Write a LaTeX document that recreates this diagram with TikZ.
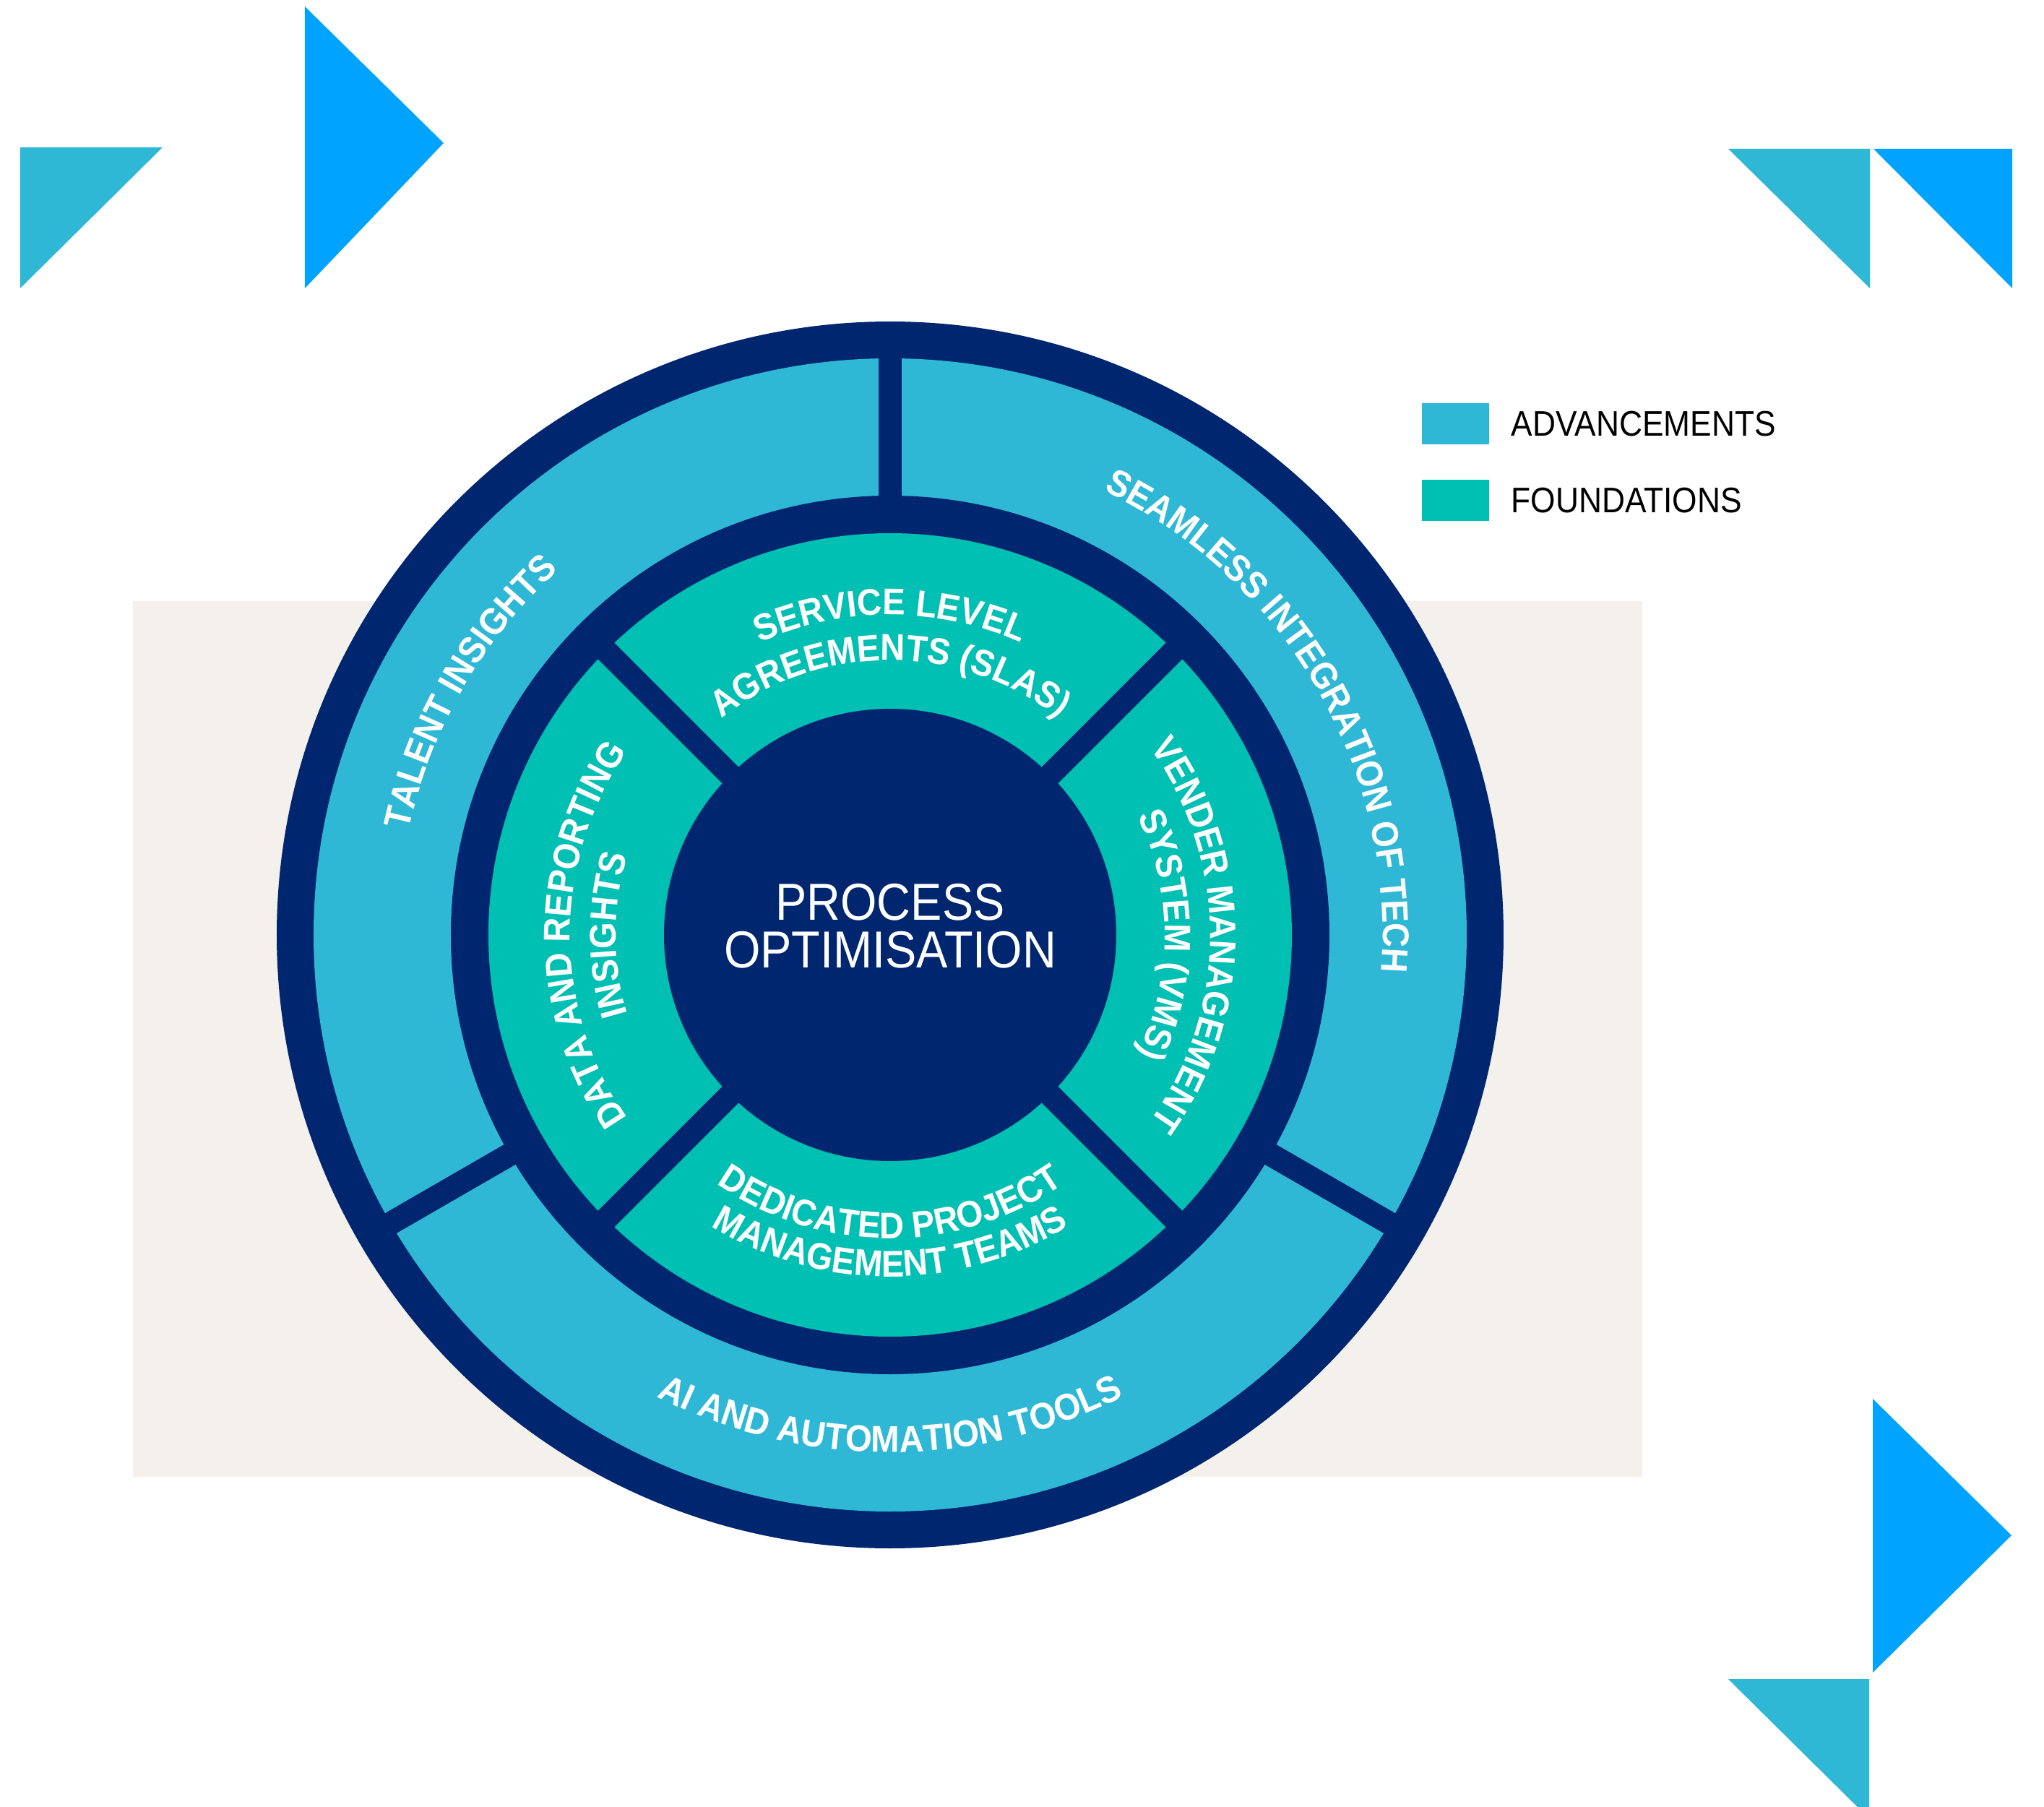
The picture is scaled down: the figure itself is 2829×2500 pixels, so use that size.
\documentclass[tikz,border=0pt]{standalone}
\usepackage{fontspec}
\setmainfont{Liberation Sans}
\newfontfamily\narrowfont[FakeStretch=0.9]{Liberation Sans}
\newfontfamily\ringfont[FakeStretch=0.92]{Liberation Sans}
\usetikzlibrary{positioning,decorations.text}

\definecolor{navy}{HTML}{00266F}
\definecolor{ringblue}{HTML}{2FB8D6}
\definecolor{ringteal}{HTML}{00BFB3}
\definecolor{arrowblue}{HTML}{00A3FF}
\definecolor{paper}{HTML}{F4F0EC}

\begin{document}
\begin{tikzpicture}[x=0.1mm, y=0.1mm,
            divider/.style = {draw=navy, line width=3.2mm},
            ringtext/.style = {decorate, decoration={text along path, text align=center,
                text color=white, text={|\fontsize{14.6}{15}\ringfont\bfseries|#1}}},
            coretext/.style = {text=white, align=center, inner sep=0pt,
                font=\fontsize{20.5}{18.8}\narrowfont},
            legbox/.style = {minimum width=9.3mm, minimum height=5.7mm, inner sep=0pt},
            legtext/.style = {text=black, inner sep=0pt, font=\fontsize{14}{15}\narrowfont},
            ]

            \useasboundingbox (-1232,-1206) rectangle (1597,1294);
            \fill[white] (-1232,-1206) rectangle (1597,1294);
            \clip (-1232,-1206) rectangle (1597,1294);

            % corner triangles
            \fill[ringblue] (-1204,1090) -- (-1007,1090) -- (-1204,895) -- cycle;
            \fill[arrowblue] (-810,1285) -- (-618,1096) -- (-810,895) -- cycle;
            \fill[ringblue] (1160,1088) -- (1356,1088) -- (1356,895) -- cycle;
            \fill[arrowblue] (1361,1088) -- (1553,1088) -- (1553,895) -- cycle;
            \fill[arrowblue] (1360,-642) -- (1552,-831) -- (1360,-1021) -- cycle;
            \fill[ringblue] (1160,-1030) -- (1355,-1030) -- (1355,-1223) -- cycle;

            \fill[paper] (-1048,462) rectangle (1041,-750);

            % wheel
            \fill[navy] (0,0) circle[radius=84.9mm];
            \fill[ringblue] (0,0) circle[radius=79.8mm];
            \fill[navy] (0,0) circle[radius=60.8mm];
            \fill[ringteal] (0,0) circle[radius=55.6mm];
            \fill[navy] (0,0) circle[radius=31.3mm];

            \foreach \a in {90,210,330}
                \draw[divider] (\a:59mm) -- (\a:81.5mm);
            \foreach \a in {45,135,225,315}
                \draw[divider] (\a:30mm) -- (\a:57mm);

            % outer ring labels
            \path[ringtext={TALENT INSIGHTS}] (210:68.2mm) arc[start angle=210, end angle=90, radius=68.2mm];
            \path[ringtext={SEAMLESS INTEGRATION OF TECH}] (90:68.2mm) arc[start angle=90, end angle=-30, radius=68.2mm];
            \path[ringtext={AI AND AUTOMATION TOOLS}] (210:71.6mm) arc[start angle=210, end angle=330, radius=71.6mm];

            % inner ring labels
            \path[ringtext={SERVICE LEVEL}] (135:44.3mm) arc[start angle=135, end angle=45, radius=44.3mm];
            \path[ringtext={AGREEMENTS (SLAS)}] (135:38mm) arc[start angle=135, end angle=45, radius=38mm];
            \path[ringtext={VENDER MANAGEMENT}] (45:44.3mm) arc[start angle=45, end angle=-45, radius=44.3mm];
            \path[ringtext={SYSTEM (VMS)}] (45:38mm) arc[start angle=45, end angle=-45, radius=38mm];
            \path[ringtext={DATA AND REPORTING}] (225:44.3mm) arc[start angle=225, end angle=135, radius=44.3mm];
            \path[ringtext={INSIGHTS}] (225:38mm) arc[start angle=225, end angle=135, radius=38mm];
            \path[ringtext={DEDICATED PROJECT}] (225:42mm) arc[start angle=225, end angle=315, radius=42mm];
            \path[ringtext={MANAGEMENT TEAMS}] (225:47.3mm) arc[start angle=225, end angle=315, radius=47.3mm];

            \node[coretext] (core) at (0,12) {PROCESS\\OPTIMISATION};

            % legend
            \node[legbox, fill=ringblue] (advbox) at (782,707) {};
            \node[legtext, right=3mm of advbox] (advtext) {ADVANCEMENTS};
            \node[legbox, fill=ringteal] (fndbox) at (782,601) {};
            \node[legtext, right=3mm of fndbox] (fndtext) {FOUNDATIONS};
        \end{tikzpicture}
\end{document}
